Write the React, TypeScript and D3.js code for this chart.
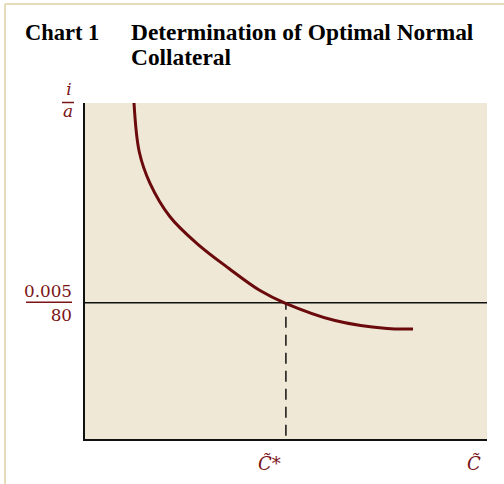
import React from "react";
import * as d3 from "d3";

const titleNumber = "Chart 1";
const titleLines = ["Determination of Optimal Normal", "Collateral"];
const yAxisLabel = ["i", "a"];
const rateLabel = ["0.005", "80"];
const xAxisLabel = "C\u0303";
const xStarLabel = "C\u0303*";

// curve (x in 0..100, y in 0..100)
const curveX = [12.41, 13.72, 16.38, 21.34, 27.97, 35.98, 43.67, 49.88, 62.28, 75.19, 81.64];
const curveY = [100, 85.46, 76.17, 66.26, 58.37, 50.89, 44.36, 40.65, 35.46, 33.09, 32.94];
const rateValue = 40.7;
const cStarValue = 50.1;

const W = 504;
const H = 484;
const RED = "#7a1416";
const LINE_RED = "#6a0a0c";
const SERIF = "'DejaVu Serif', serif";

export default function App() {
  const x = d3.scaleLinear().domain([0, 100]).range([84, 487]);
  const y = d3.scaleLinear().domain([0, 100]).range([440, 103]);
  const pts: [number, number][] = curveX.map((v, i) => [v, curveY[i]]);
  const line = d3
    .line<[number, number]>()
    .x((d) => x(d[0]))
    .y((d) => y(d[1]))
    .curve(d3.curveCatmullRom.alpha(0.5));

  return (
    <svg
      width={W}
      height={H}
      style={{ position: "absolute", left: 0, top: 0, background: "#fff" }}
    >
      {/* page border */}
      <line x1={5} y1={4} x2={W} y2={4} stroke="#e6dcb9" strokeWidth={2} />
      <line x1={5} y1={4} x2={5} y2={H} stroke="#e6dcb9" strokeWidth={2} />

      {/* title */}
      <g fontFamily="'Liberation Serif', serif" fontWeight="bold" fill="#000">
        <text x={25} y={40} fontSize={22.5}>{titleNumber}</text>
        {titleLines.map((t, i) => (
          <text key={i} x={131} y={40 + i * 24.5} fontSize={23.4}>{t}</text>
        ))}
      </g>

      {/* plot background */}
      <rect x={x(0)} y={y(100)} width={x(100) - x(0)} height={y(0) - y(100)} fill="#efe8d6" />

      {/* horizontal rate line */}
      <line x1={x(0)} x2={x(100)} y1={y(rateValue)} y2={y(rateValue)} stroke="#111" strokeWidth={1.5} />

      {/* dashed vertical */}
      <line
        x1={x(cStarValue)}
        x2={x(cStarValue)}
        y1={y(rateValue)}
        y2={y(0)}
        stroke="#111"
        strokeWidth={1.5}
        strokeDasharray="11,7"
        strokeDashoffset={4}
      />

      {/* curve */}
      <path d={line(pts) || ""} fill="none" stroke={LINE_RED} strokeWidth={3} />

      {/* axes */}
      <line x1={x(0)} x2={x(0)} y1={y(100)} y2={y(0) + 1} stroke="#111" strokeWidth={2} />
      <line x1={x(0) - 1} x2={x(100)} y1={y(0)} y2={y(0)} stroke="#111" strokeWidth={2} />

      {/* y axis label i/a */}
      <g fill={RED} fontFamily={SERIF} fontStyle="italic" fontSize={17} textAnchor="middle">
        <text x={69} y={95}>{yAxisLabel[0]}</text>
        <line x1={62} x2={74} y1={102.5} y2={102.5} stroke={RED} strokeWidth={1.5} />
        <text x={68} y={117}>{yAxisLabel[1]}</text>
      </g>

      {/* rate label */}
      <g fill={RED} fontFamily={SERIF} fontSize={16.8} textAnchor="end">
        <text x={72} y={296.5}>{rateLabel[0]}</text>
        <line x1={26} x2={72} y1={y(rateValue) - 0.5} y2={y(rateValue) - 0.5} stroke={RED} strokeWidth={1.5} />
        <text x={72} y={321}>{rateLabel[1]}</text>
      </g>

      {/* x labels */}
      <g fill={RED} fontFamily={SERIF} fontStyle="italic" fontSize={18}>
        <text x={258} y={470}>{xStarLabel}</text>
        <text x={467} y={470}>{xAxisLabel}</text>
      </g>
    </svg>
  );
}
